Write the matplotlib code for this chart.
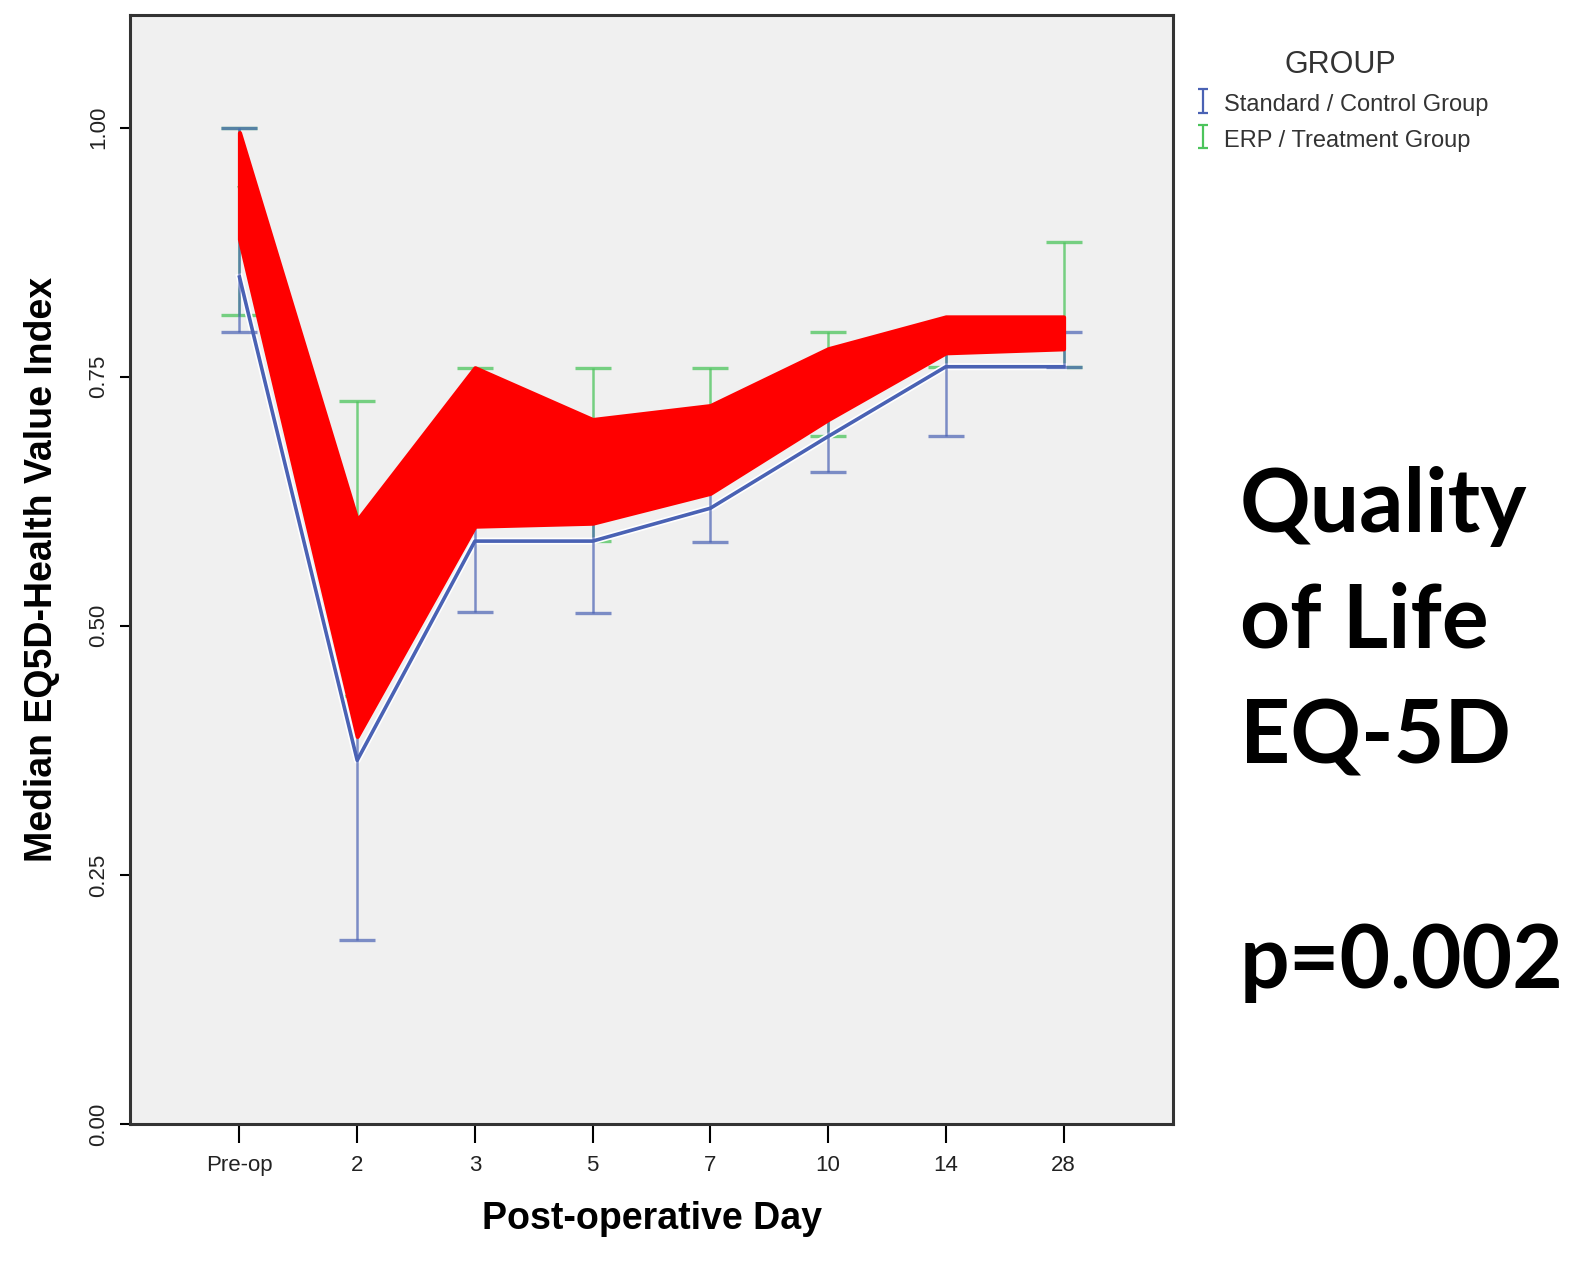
import matplotlib
matplotlib.use("Agg")
import matplotlib.pyplot as plt
import matplotlib.patheffects as pe
from matplotlib.ticker import FormatStrFormatter
import numpy as np

# categories on the x axis
days = ['Pre-op', '2', '3', '5', '7', '10', '14', '28']

# Standard / Control group: median and error bar limits
ctrl_median = [0.85, 0.365, 0.585, 0.585, 0.618, 0.69, 0.76, 0.76]
ctrl_low = [0.795, 0.185, 0.514, 0.513, 0.584, 0.654, 0.69, 0.76]
ctrl_high = [1.0, 0.59, 0.70, 0.70, 0.70, 0.75, 0.79, 0.795]

# ERP / Treatment group
erp_median = [0.94, 0.50, 0.68, 0.66, 0.68, 0.74, 0.79, 0.79]
erp_low = [0.812, 0.43, 0.62, 0.585, 0.65, 0.69, 0.76, 0.76]
erp_high = [1.0, 0.726, 0.759, 0.759, 0.759, 0.795, 0.80, 0.885]

# red highlight band drawn over the chart
band_upper = [0.995, 0.606, 0.759, 0.707, 0.721, 0.778, 0.81, 0.81]
band_lower = [0.888, 0.389, 0.60, 0.603, 0.633, 0.707, 0.774, 0.778]

blue = '#4a62b4'
green = '#4cc45c'
sans = ['Liberation Sans', 'DejaVu Sans']

fig = plt.figure(figsize=(15.75, 12.75), dpi=100)
ax = fig.add_axes([130/1575, 1 - 1124/1275, (1173-130)/1575, (1124-15)/1275])
ax.set_facecolor('#f0f0f0')

x = np.arange(len(days))

def yerr(med, lo, hi):
    med = np.array(med); lo = np.array(lo); hi = np.array(hi)
    return [med - lo, hi - med]

ax.plot(x, erp_median, color=green, lw=2.5, zorder=2)
ax.errorbar(x, erp_median, yerr=yerr(erp_median, erp_low, erp_high), fmt='none',
            ecolor=green, elinewidth=1.8, capsize=13, capthick=2.4, alpha=0.75, zorder=2)
ax.plot(x, ctrl_median, color=blue, lw=2.6, zorder=3,
        path_effects=[pe.Stroke(linewidth=5, foreground='white'), pe.Normal()])
ax.errorbar(x, ctrl_median, yerr=yerr(ctrl_median, ctrl_low, ctrl_high), fmt='none',
            ecolor=blue, elinewidth=1.8, capsize=13, capthick=2.4, alpha=0.7, zorder=3)

# small "I" handles for the legend only
h_c = ax.errorbar([np.nan], [np.nan], yerr=[[0.1], [0.1]], fmt='none', ecolor=blue,
                  elinewidth=1.6, capsize=3.5, capthick=1.6)
h_e = ax.errorbar([np.nan], [np.nan], yerr=[[0.1], [0.1]], fmt='none', ecolor=green,
                  elinewidth=1.6, capsize=3.5, capthick=1.6)

ax.fill_between(x, band_lower, band_upper, color='#ff0000', lw=3, edgecolor='#ff0000',
                joinstyle='round', zorder=5)

ax.set_xlim(-0.93, 7.93)
ax.set_ylim(0, 1.113)
ax.set_xticks(x)
ax.set_xticklabels(days, family=sans, fontsize=16, color='#222222')
ax.set_yticks([0, 0.25, 0.5, 0.75, 1.0])
ax.yaxis.set_major_formatter(FormatStrFormatter('%.2f'))
for lab in ax.get_yticklabels():
    lab.set_rotation(90)
    lab.set_va('center')
    lab.set_family(sans)
    lab.set_fontsize(16)
    lab.set_color('#222222')
ax.tick_params(axis='x', length=14, width=1.5, pad=8)
ax.tick_params(axis='y', length=7, width=1.5, pad=8)
for s in ax.spines.values():
    s.set_linewidth(2.2)
    s.set_color('#333333')

ax.set_xlabel('Post-operative Day', family=sans, fontsize=27, fontweight='bold', labelpad=18)
ax.set_ylabel('Median EQ5D-Health Value Index', family=sans, fontsize=27, fontweight='bold', labelpad=20)

leg = fig.legend([h_c, h_e], ['Standard / Control Group', 'ERP / Treatment Group'],
                 loc='upper left', bbox_to_anchor=(1172/1575, 1 - 29/1275), frameon=False,
                 title='GROUP', prop={'family': sans, 'size': 17}, title_fontsize=22,
                 handlelength=0.8, handleheight=1.2, handletextpad=0.5, labelspacing=0.45)
for t in leg.get_texts():
    t.set_color('#333333')
leg.get_title().set_color('#333333')
leg.get_title().set_family(sans)

right_font = ['Lato', 'DejaVu Sans']
for txt, ybase in [('Quality', 532), ('of Life', 647), ('EQ-5D', 764), ('p=0.002', 988)]:
    fig.text(1240/1575, 1 - ybase/1275, txt, family=right_font, fontweight='bold',
             fontsize=63, va='baseline', ha='left', color='black')

fig.savefig('out.png', dpi=100, facecolor='white')
